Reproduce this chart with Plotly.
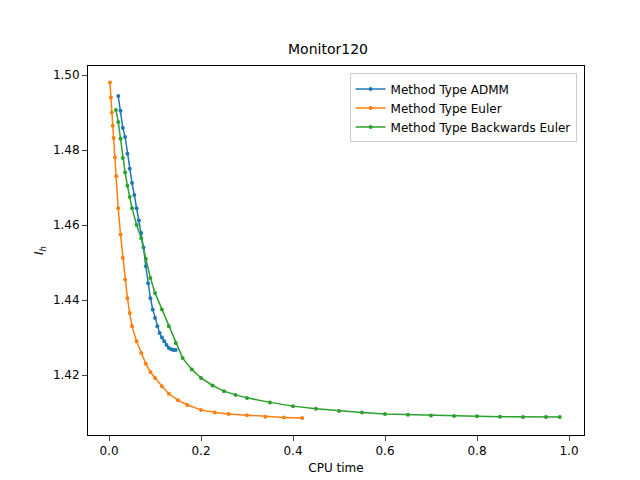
import plotly.graph_objects as go

# values
admm_t = [0.02, 0.025, 0.03, 0.035, 0.04, 0.045, 0.05, 0.055, 0.06, 0.065, 0.07, 0.075, 0.08,
          0.085, 0.09, 0.095, 0.1, 0.105, 0.11, 0.115, 0.12, 0.125, 0.13, 0.135, 0.14, 0.145]
admm_y = [1.4944, 1.4905, 1.4859, 1.4835, 1.4790, 1.4750, 1.4712, 1.4680, 1.4645, 1.4612, 1.4579,
          1.4540, 1.4490, 1.4445, 1.4405, 1.4375, 1.4352, 1.4330, 1.4312, 1.4300, 1.4290, 1.4280,
          1.4272, 1.4269, 1.4267, 1.4267]

euler_t = [0.002, 0.004, 0.006, 0.008, 0.01, 0.013, 0.016, 0.02, 0.025, 0.03, 0.035, 0.04, 0.045,
           0.05, 0.06, 0.07, 0.08, 0.09, 0.1, 0.115, 0.13, 0.15, 0.17, 0.2, 0.23, 0.26, 0.3, 0.34,
           0.38, 0.42]
euler_y = [1.4980, 1.4940, 1.4900, 1.4865, 1.4832, 1.4780, 1.4730, 1.4645, 1.4575, 1.4512, 1.4455,
           1.4405, 1.4365, 1.4330, 1.4290, 1.4259, 1.4230, 1.4208, 1.4192, 1.4170, 1.4150, 1.4133,
           1.4120, 1.4107, 1.4100, 1.4096, 1.4093, 1.4089, 1.4087, 1.4085]

beuler_t = [0.015, 0.02, 0.025, 0.03, 0.035, 0.04, 0.045, 0.05, 0.06, 0.07, 0.08, 0.09, 0.1, 0.115,
            0.13, 0.145, 0.16, 0.18, 0.2, 0.225, 0.25, 0.275, 0.3, 0.35, 0.4, 0.45, 0.5, 0.55, 0.6,
            0.65, 0.7, 0.75, 0.8, 0.85, 0.9, 0.95, 0.98]
beuler_y = [1.4907, 1.4875, 1.4830, 1.4779, 1.4740, 1.4705, 1.4675, 1.4645, 1.4600, 1.4565, 1.4510,
            1.4459, 1.4419, 1.4375, 1.4330, 1.4285, 1.4245, 1.4215, 1.4192, 1.4172, 1.4157, 1.4147,
            1.4139, 1.4127, 1.4117, 1.4110, 1.4104, 1.4100, 1.4096, 1.4094, 1.4092, 1.4091, 1.4090,
            1.4089, 1.4088, 1.4088, 1.4088]

fig = go.Figure()
for name, t, y, c in [("Method Type ADMM", admm_t, admm_y, "#1f77b4"),
                      ("Method Type Euler", euler_t, euler_y, "#ff7f0e"),
                      ("Method Type Backwards Euler", beuler_t, beuler_y, "#2ca02c")]:
    fig.add_trace(go.Scatter(x=t, y=y, mode="lines+markers", name=name,
                             line=dict(color=c, width=1.5), marker=dict(color=c, size=4)))

fig.update_layout(
    width=640, height=480, plot_bgcolor="white", paper_bgcolor="white",
    font=dict(family="DejaVu Sans", size=12, color="black"),
    title=dict(text="Monitor120", x=0.5, xanchor="center", y=0.925, font=dict(size=14)),
    margin=dict(l=80, r=64, t=58, b=53),
    legend=dict(x=0.985, y=0.98, xanchor="right", yanchor="top", bordercolor="#cccccc",
                borderwidth=1, bgcolor="rgba(255,255,255,0.8)", font=dict(size=12)),
)
fig.update_xaxes(title_text="CPU time", title_font=dict(size=12), title_standoff=6, automargin=False,
                 range=[-0.0457, 1.0326], tickvals=[0, 0.2, 0.4, 0.6, 0.8, 1.0],
                 ticktext=["0.0", "0.2", "0.4", "0.6", "0.8", "1.0"], tickfont=dict(size=12),
                 showgrid=False, zeroline=False,
                 showline=True, mirror=True, linecolor="black", ticks="outside")
fig.update_yaxes(title_text="<i>I<sub>h</sub></i>", title_font=dict(size=12), title_standoff=6,
                 automargin=False, range=[1.404, 1.5024], tickfont=dict(size=12),
                 tickvals=[1.42, 1.44, 1.46, 1.48, 1.50], ticktext=["1.42", "1.44", "1.46", "1.48", "1.50"],
                 showgrid=False, zeroline=False, showline=True, mirror=True, linecolor="black",
                 ticks="outside")
fig.write_html("out.html")
